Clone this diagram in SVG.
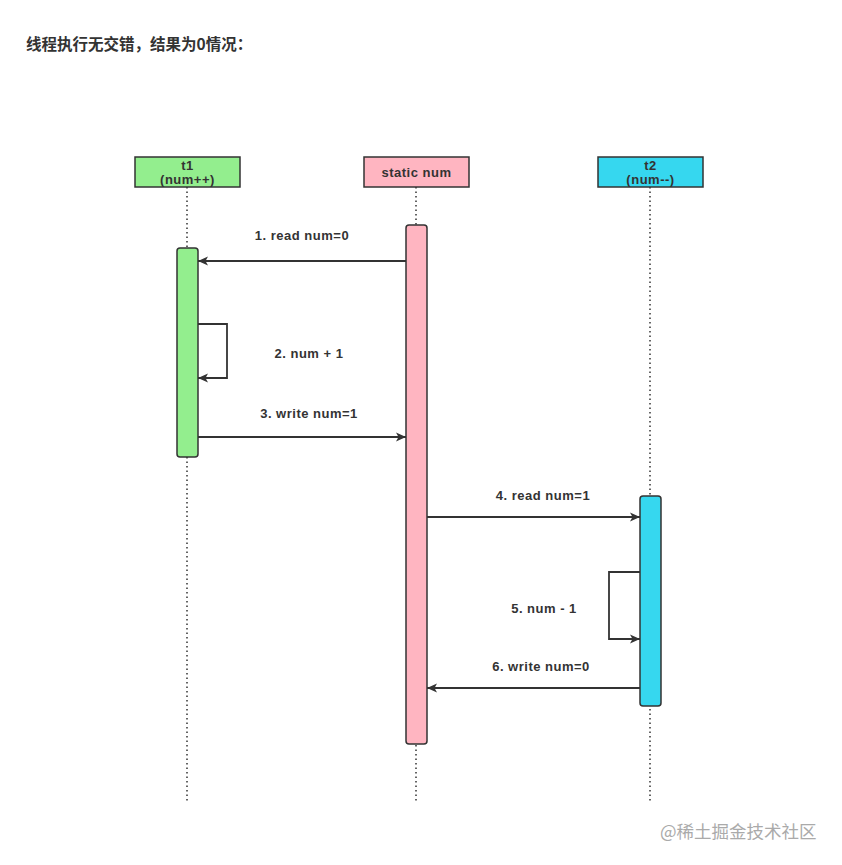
<svg xmlns="http://www.w3.org/2000/svg" width="842" height="865" viewBox="0 0 842 865">
<style>
text{font-family:"Liberation Sans","Noto Sans CJK SC",sans-serif;fill:#333;font-weight:bold}
.lbl{font-size:13px;text-anchor:middle;letter-spacing:0.5px}
.hdr rect{stroke:#333;stroke-width:1.5}
.life{stroke:#333;stroke-width:1.5;stroke-dasharray:1.5 3;fill:none}
.act{stroke:#333;stroke-width:1.5}
.msg{stroke:#333;stroke-width:1.8;fill:none}
</style>
<defs>
<marker id="ah" viewBox="0 0 10 10" refX="10" refY="5" markerWidth="10" markerHeight="10" markerUnits="userSpaceOnUse" orient="auto">
<path d="M0,0.5 L10,5 L0,9.5 L2.5,5 Z" fill="#333"/>
</marker>
</defs>
<rect width="842" height="865" fill="#fff"/>
<text x="26" y="50" font-size="15.5" style="font-family:'Noto Sans CJK SC',sans-serif">线程执行无交错，结果为0情况：</text>

<g id="lifelines">
<line class="life" x1="187" y1="187" x2="187" y2="803"/>
<line class="life" x1="416" y1="187" x2="416" y2="803"/>
<line class="life" x1="650" y1="187" x2="650" y2="803"/>
</g>

<g id="t1" class="hdr">
<rect x="135" y="157" width="105" height="30" fill="#93EE8E"/>
<text class="lbl" x="187.5" y="170">t1</text>
<text class="lbl" x="187.5" y="184">(num++)</text>
</g>
<g id="static-num" class="hdr">
<rect x="364" y="157" width="105" height="30" fill="#FFB5C1"/>
<text class="lbl" x="416.5" y="177">static num</text>
</g>
<g id="t2" class="hdr">
<rect x="598" y="157" width="105" height="30" fill="#36D7EF"/>
<text class="lbl" x="650.5" y="170">t2</text>
<text class="lbl" x="650.5" y="184">(num--)</text>
</g>

<g id="act-t1"><rect class="act" x="177" y="248" width="21" height="209" rx="3" fill="#93EE8E"/></g>
<g id="act-static"><rect class="act" x="406" y="225" width="21" height="519" rx="3" fill="#FFB5C1"/></g>
<g id="act-t2"><rect class="act" x="640" y="496" width="21" height="210" rx="3" fill="#36D7EF"/></g>

<g id="connectors">
<line class="msg" x1="406" y1="261" x2="198" y2="261" marker-end="url(#ah)"/>
<polyline class="msg" points="198,324 227,324 227,378 198,378" marker-end="url(#ah)"/>
<line class="msg" x1="198" y1="437" x2="406" y2="437" marker-end="url(#ah)"/>
<line class="msg" x1="427" y1="517" x2="640" y2="517" marker-end="url(#ah)"/>
<polyline class="msg" points="640,572 609,572 609,639 640,639" marker-end="url(#ah)"/>
<line class="msg" x1="640" y1="688" x2="427" y2="688" marker-end="url(#ah)"/>
</g>

<g id="labels">
<text class="lbl" x="302" y="240">1. read num=0</text>
<text class="lbl" x="309" y="358">2. num + 1</text>
<text class="lbl" x="309" y="418">3. write num=1</text>
<text class="lbl" x="543" y="500">4. read num=1</text>
<text class="lbl" x="544" y="613">5. num - 1</text>
<text class="lbl" x="541" y="671">6. write num=0</text>
</g>

<text x="660" y="838" font-size="17.5" style="fill:#aaa;font-weight:normal;font-family:'Noto Sans CJK SC',sans-serif">@稀土掘金技术社区</text>
</svg>
